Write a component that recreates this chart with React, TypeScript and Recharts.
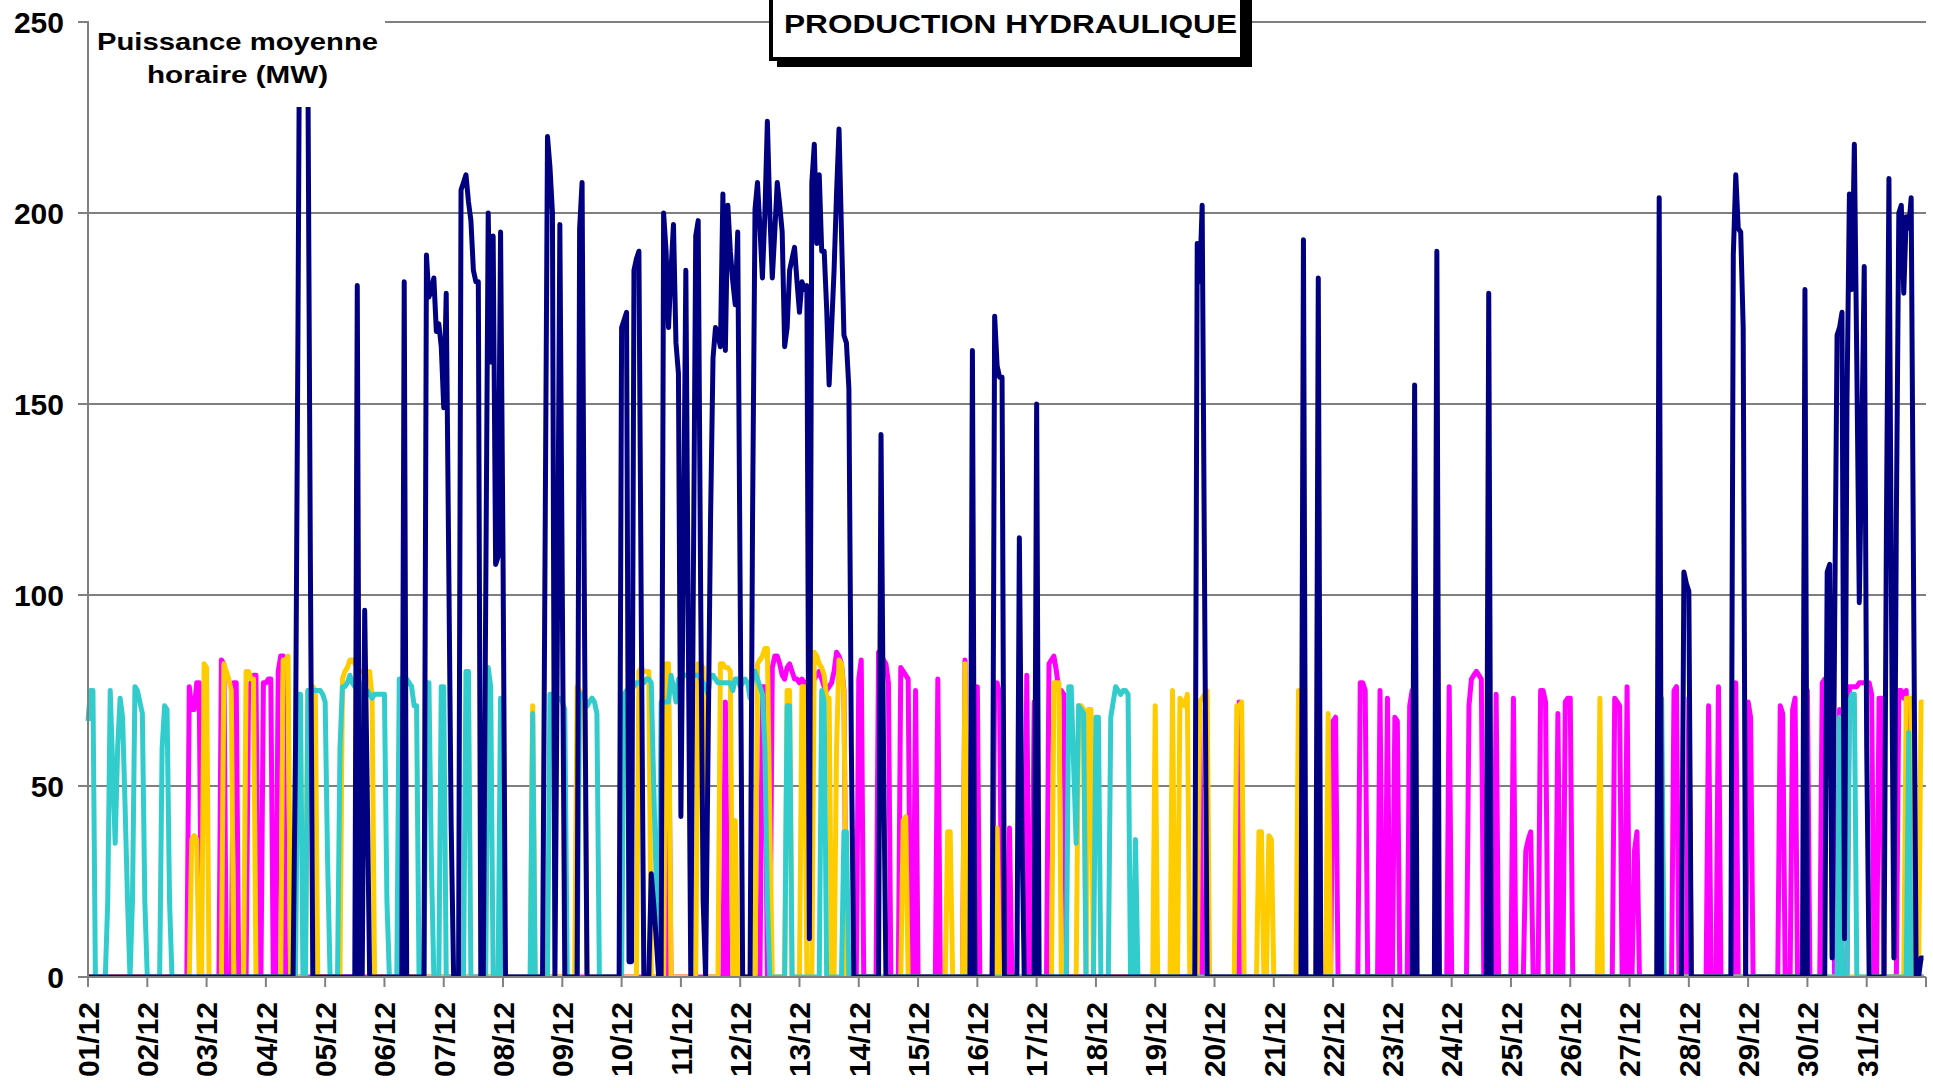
import React from 'react';
import { LineChart, Line, XAxis, YAxis, CartesianGrid } from 'recharts';

const HOURS = 744;
const FONT = '"Liberation Sans", Arial, sans-serif';

const dayLabels = [
  '01/12', '02/12', '03/12', '04/12', '05/12', '06/12', '07/12', '08/12', '09/12', '10/12',
  '11/12', '12/12', '13/12', '14/12', '15/12', '16/12', '17/12', '18/12', '19/12', '20/12',
  '21/12', '22/12', '23/12', '24/12', '25/12', '26/12', '27/12', '28/12', '29/12', '30/12', '31/12',
];
const xTicks = [0, 24, 48, 72, 96, 120, 144, 168, 192, 216, 240, 264, 288, 312, 336, 360, 384, 408, 432, 456, 480, 504, 528, 552, 576, 600, 624, 648, 672, 696, 720, 744];
const yTicks = [0, 50, 100, 150, 200, 250];

// Each run: [first hour index, consecutive hourly values (MW)]; every other hour is 0.
const navyRuns: [number, number[]][] = [
  [84, [60, 170, 300, 310, 290, 240, 110]],
  [109, [181]],
  [112, [96, 50]],
  [128, [182]],
  [137, [189, 178, 180, 183, 169, 171, 165, 149, 179, 110, 40]],
  [151, [206, 208, 210, 203, 198, 185, 182, 182]],
  [161, [100, 200, 161, 194, 108, 110, 195, 110]],
  [185, [110, 220, 212, 200]],
  [190, [90, 197, 100]],
  [199, [196, 208, 90]],
  [216, [170, 172, 174, 4, 4, 185, 188, 190, 90]],
  [228, [27, 19, 10]],
  [233, [200, 190, 170, 185, 197, 166, 158, 42, 110, 185, 90]],
  [245, [100, 194, 198, 100, 20]],
  [251, [60, 120, 162, 170, 168, 165, 205, 164, 202, 190, 182, 176, 195, 100]],
  [269, [120, 201, 208, 196, 183, 200, 224, 200, 183, 195, 208, 202, 195, 165, 170, 185, 188, 191, 182, 174, 182, 180, 181, 10, 208, 218, 192, 210, 190, 190, 175, 155, 170, 185, 205, 222, 195, 168, 166, 154, 60]],
  [321, [142, 60]],
  [358, [164]],
  [367, [173, 160, 157, 157]],
  [377, [115, 40]],
  [384, [150]],
  [449, [192, 182, 202, 100]],
  [492, [193]],
  [498, [183]],
  [537, [155]],
  [546, [190]],
  [567, [179]],
  [636, [204]],
  [646, [106, 103, 101]],
  [666, [189, 210, 196, 195, 170]],
  [695, [180]],
  [704, [106, 108, 5, 90, 168, 170, 174, 10, 150, 205, 180, 218, 160, 98, 140, 186, 60]],
  [728, [120, 209, 100, 5, 120, 200, 202, 179, 199, 196, 204, 100]],
  [742, [5, 5]],
];

const magentaRuns: [number, number[]][] = [
  [41, [76, 70, 70, 77, 77]],
  [54, [83, 82]],
  [59, [77, 77]],
  [65, [76, 77, 79, 79]],
  [71, [77, 77, 78, 78]],
  [77, [80, 84, 84]],
  [235, [72]],
  [258, [72]],
  [273, [76, 76]],
  [277, [81, 84, 84, 82, 79, 78, 81, 82, 80, 78, 78, 77, 78, 77, 77, 78, 77, 78, 79, 80, 78, 76, 75, 76, 77, 80, 85, 84, 82, 75]],
  [312, [78, 83]],
  [320, [85, 84, 83, 82, 77]],
  [329, [81, 80, 79, 78]],
  [335, [75]],
  [344, [78]],
  [355, [83]],
  [360, [76]],
  [367, [76, 77, 74]],
  [373, [39]],
  [380, [79]],
  [383, [72]],
  [389, [82, 83, 84, 80, 75, 75, 74]],
  [450, [70]],
  [466, [72]],
  [504, [67, 68]],
  [515, [77, 77, 75]],
  [523, [75]],
  [526, [73]],
  [529, [68, 67]],
  [535, [71, 75]],
  [546, [38]],
  [551, [76]],
  [559, [71, 78, 79, 80, 79, 78]],
  [570, [74]],
  [577, [73]],
  [582, [33, 36, 38]],
  [588, [75, 75, 72]],
  [595, [69]],
  [598, [72, 73, 73]],
  [618, [73, 72, 71]],
  [623, [76]],
  [626, [33, 38]],
  [642, [75, 76]],
  [648, [73]],
  [656, [71]],
  [660, [76]],
  [667, [77]],
  [672, [72, 68]],
  [685, [71, 69]],
  [690, [70, 73]],
  [696, [75]],
  [702, [77, 78, 78, 78, 78]],
  [709, [70]],
  [713, [76, 76, 76, 76, 77, 77, 77, 77, 77, 74]],
  [725, [73, 73]],
  [733, [75, 75, 73, 75]],
];

const goldRuns: [number, number[]][] = [
  [42, [36, 37, 36]],
  [47, [82, 81]],
  [55, [82, 80, 78, 75]],
  [64, [80, 80, 78, 78]],
  [79, [83, 83, 84]],
  [89, [75, 75, 76, 75]],
  [103, [78, 80, 81, 83, 83, 82, 81, 80, 80, 80, 80, 80, 73]],
  [180, [71]],
  [198, [76, 75, 74, 74]],
  [223, [80, 81, 80, 80, 80]],
  [234, [82, 82]],
  [247, [82, 82, 81]],
  [256, [82, 82, 81, 81, 80]],
  [262, [41]],
  [271, [82, 83, 84, 86, 86, 40]],
  [283, [75, 75]],
  [289, [76, 76]],
  [294, [85, 84, 82, 81, 79, 73, 73]],
  [303, [60, 83, 82, 74]],
  [330, [41, 42]],
  [348, [38, 38]],
  [355, [82]],
  [368, [39]],
  [391, [77, 77, 77]],
  [401, [71, 71, 70]],
  [405, [70, 70]],
  [432, [71]],
  [439, [75]],
  [442, [73, 72, 71, 74]],
  [450, [72, 73, 74, 75]],
  [465, [71, 71, 72]],
  [474, [38, 38]],
  [478, [37, 36]],
  [490, [75]],
  [498, [75]],
  [502, [69]],
  [612, [73]],
  [736, [73, 73, 73]],
  [742, [72, 72]],
];

const cyanRuns: [number, number[]][] = [
  [0, [67, 75, 75]],
  [8, [20, 75, 55, 35, 60, 73, 68, 45, 20]],
  [18, [20, 76, 75, 72, 69, 20]],
  [30, [60, 71, 70, 20]],
  [85, [74, 74]],
  [89, [75, 74, 75, 75, 75, 75, 74, 72, 30]],
  [102, [60, 76, 76, 77, 79, 77, 76, 78, 77, 40, 73, 75, 74, 73, 74, 74, 74, 74, 74, 20]],
  [126, [78, 78, 78, 78, 77, 76, 71, 71]],
  [137, [77, 77, 30]],
  [143, [76, 76]],
  [153, [80, 80]],
  [162, [81, 76]],
  [167, [73]],
  [180, [69]],
  [187, [74, 74, 73, 73, 73, 72, 70]],
  [199, [74, 74, 73, 71, 72, 73, 72, 69]],
  [217, [74, 75, 75, 76, 76, 77, 77, 77, 77, 78, 78, 77, 50, 25, 3, 72, 72, 72, 72, 79, 76, 72, 78, 78, 79, 79, 79, 79, 79, 79, 79, 78, 77, 76, 74, 79, 79, 78, 77, 77, 77, 77, 77, 77, 75, 78, 78, 76, 77, 78, 77, 73, 78, 80, 78, 76, 74, 60, 20]],
  [283, [71, 71]],
  [297, [75, 72]],
  [306, [38, 38]],
  [397, [76, 76, 55, 35, 71, 70, 69]],
  [408, [68, 68]],
  [414, [68, 72, 76, 75, 74, 75, 75, 74]],
  [424, [36]],
  [637, [73]],
  [709, [68]],
  [713, [72, 74, 74]],
  [737, [64]],
];

function expand(runs: [number, number[]][]): number[] {
  const arr: number[] = new Array(HOURS).fill(0);
  for (const [start, vals] of runs) {
    vals.forEach((v, i) => {
      if (start + i < HOURS) arr[start + i] = v;
    });
  }
  return arr;
}

const navy = expand(navyRuns);
const magenta = expand(magentaRuns);
const gold = expand(goldRuns);
const cyan = expand(cyanRuns);

const data = navy.map((n, h) => ({ h, m: magenta[h], g: gold[h], c: cyan[h], n }));

const XTick = (props: any) => {
  const { x, y, payload } = props;
  const label = dayLabels[Math.round(payload.value / 24)];
  if (!label) return null;
  return (
    <text
      x={0}
      y={0}
      transform={`translate(${x},${y + 13}) rotate(-90)`}
      textAnchor="end"
      dy="0.36em"
      fontSize={30}
      fontWeight="bold"
      fontFamily={FONT}
      fill="#000"
    >
      {label}
    </text>
  );
};

const LW = 5;

export default function App() {
  return (
    <div style={{ position: 'absolute', left: 0, top: 0, width: 1933, height: 1088, overflow: 'hidden', background: '#fff' }}>
      <LineChart width={1933} height={1088} data={data} margin={{ top: 22, right: 7, bottom: 11, left: 28 }}>
        <CartesianGrid vertical={false} stroke="#000" strokeWidth={1} />
        <XAxis
          dataKey="h"
          type="number"
          domain={[0, 744]}
          ticks={xTicks}
          interval={0}
          height={100}
          tickSize={10}
          axisLine={{ stroke: '#808080', strokeWidth: 2 }}
          tickLine={{ stroke: '#808080', strokeWidth: 2 }}
          tick={<XTick />}
        />
        <YAxis
          domain={[0, 250]}
          ticks={yTicks}
          allowDataOverflow
          width={60}
          tickSize={10}
          tickMargin={14}
          axisLine={{ stroke: '#808080', strokeWidth: 2 }}
          tickLine={{ stroke: '#808080', strokeWidth: 2 }}
          tick={{ fontSize: 30, fontWeight: 'bold', fill: '#000', fontFamily: FONT }}
        />
        <Line type="linear" dataKey="m" stroke="#FF00FF" strokeWidth={LW} dot={false} isAnimationActive={false} strokeLinejoin="round" />
        <Line type="linear" dataKey="g" stroke="#FFCC00" strokeWidth={LW} dot={false} isAnimationActive={false} strokeLinejoin="round" />
        <Line type="linear" dataKey="c" stroke="#33CCCC" strokeWidth={LW} dot={false} isAnimationActive={false} strokeLinejoin="round" />
        <Line type="linear" dataKey="n" stroke="#000080" strokeWidth={LW} dot={false} isAnimationActive={false} strokeLinejoin="round" />
      </LineChart>
      <svg width={1933} height={1088} style={{ position: 'absolute', left: 0, top: 0, pointerEvents: 'none' }}>
        <rect x={89} y={0} width={296} height={107} fill="#fff" />
        <text x={97} y={50} fontSize={24.5} fontWeight="bold" fontFamily={FONT} fill="#000" textLength={281} lengthAdjust="spacingAndGlyphs">
          Puissance moyenne
        </text>
        <text x={147} y={83} fontSize={24.5} fontWeight="bold" fontFamily={FONT} fill="#000" textLength={181} lengthAdjust="spacingAndGlyphs">
          horaire (MW)
        </text>
        <rect x={777} y={-10} width={475} height={77} fill="#000" />
        <rect x={769} y={-10} width={475} height={71} fill="#000" />
        <rect x={773} y={-10} width={467} height={67} fill="#fff" />
        <text x={784} y={33} fontSize={25} fontWeight="bold" fontFamily={FONT} fill="#000" textLength={453} lengthAdjust="spacingAndGlyphs">
          PRODUCTION HYDRAULIQUE
        </text>
      </svg>
    </div>
  );
}
